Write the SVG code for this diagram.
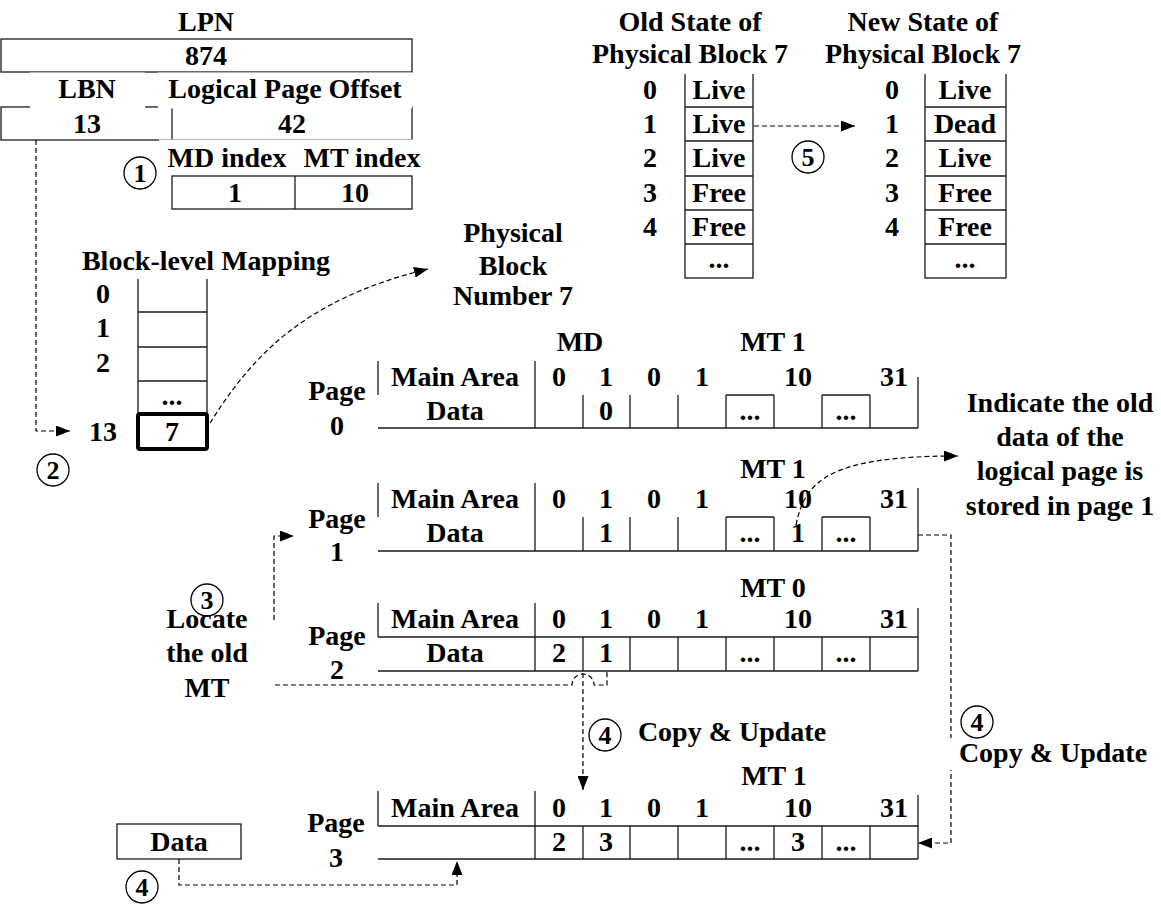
<svg xmlns="http://www.w3.org/2000/svg" width="1161" height="905" viewBox="0 0 1161 905">
<style>
.t{font-family:"Liberation Serif","Times New Roman",serif;font-weight:bold;font-size:28px;text-anchor:middle;fill:#000}
.c{font-family:"Liberation Serif","Times New Roman",serif;font-weight:bold;font-size:26px;text-anchor:middle;fill:#000}
.ln{stroke:#1a1a1a;stroke-width:1.3;fill:none}
.bx{stroke:#1a1a1a;stroke-width:1.3;fill:#fff}
.wb{fill:#fff;stroke:none}
.ci{fill:none;stroke:#000;stroke-width:1.3}
.dash{stroke:#000;stroke-width:1.2;stroke-dasharray:5 3;fill:none}
</style>
<defs>
<marker id="ah" markerUnits="userSpaceOnUse" markerWidth="14" markerHeight="11" refX="14" refY="5.5" orient="auto">
<path d="M0,0 L14,5.5 L0,11 z" fill="#000"/>
</marker>
</defs>
<rect width="1161" height="905" fill="#fff"/>

<g id="lpn">
<rect class="wb" x="0" y="5" width="412" height="33"/>
<text class="t" x="206" y="31">LPN</text>
<rect class="bx" x="1" y="39" width="411" height="33"/>
<text class="t" x="206" y="65">874</text>
</g>

<g id="lbn-offset">
<rect class="ln" x="1" y="107" width="411" height="33"/>
<path class="ln" d="M172,107 V140"/>
<rect class="wb" x="30" y="72.5" width="115" height="36"/>
<rect class="wb" x="158" y="72.5" width="254" height="36"/>
<text class="t" x="87" y="98">LBN</text>
<text class="t" x="285" y="98">Logical Page Offset</text>
<text class="t" x="87" y="133">13</text>
<text class="t" x="292" y="133">42</text>
</g>

<g id="index">
<rect class="wb" x="159" y="139.5" width="273" height="35.5"/>
<text class="t" x="227" y="167">MD index</text>
<text class="t" x="362" y="167">MT index</text>
<rect class="bx" x="172" y="176" width="240" height="33"/>
<path class="ln" d="M295,176 V209"/>
<text class="t" x="235" y="202">1</text>
<text class="t" x="355" y="202">10</text>
</g>

<g id="block-mapping">
<rect class="wb" x="76" y="244" width="267" height="34"/>
<text class="t" x="206" y="270">Block-level Mapping</text>
<path class="ln" d="M138,279 V413 M207,279 V413 M138,312 H207 M138,347 H207 M138,381 H207"/>
<rect x="138" y="414" width="69" height="35" rx="2" fill="#fff" stroke="#000" stroke-width="4"/>
<text class="t" x="103" y="303">0</text>
<text class="t" x="103" y="337">1</text>
<text class="t" x="103" y="372">2</text>
<text class="t" x="172" y="405">...</text>
<text class="t" x="103" y="441">13</text>
<text class="t" x="172" y="441">7</text>
</g>

<g id="physical-block">
<rect class="wb" x="428" y="241" width="172" height="54"/>
<text class="t" x="513" y="242">Physical</text>
<text class="t" x="513" y="275">Block</text>
<text class="t" x="513" y="305">Number 7</text>
</g>

<g id="old-state">
<rect class="wb" x="615" y="73" width="70" height="172"/>
<rect class="bx" x="685" y="73" width="68" height="205"/>
<path class="ln" d="M685,107 H753 M685,141 H753 M685,176 H753 M685,210 H753 M685,244 H753"/>
<rect class="wb" x="588" y="5" width="207" height="69"/>
<text class="t" x="690" y="31">Old State of</text>
<text class="t" x="690" y="63">Physical Block 7</text>
<text class="t" x="650" y="99">0</text>
<text class="t" x="650" y="133">1</text>
<text class="t" x="650" y="167">2</text>
<text class="t" x="650" y="202">3</text>
<text class="t" x="650" y="236">4</text>
<text class="t" x="719" y="99">Live</text>
<text class="t" x="719" y="133">Live</text>
<text class="t" x="719" y="167">Live</text>
<text class="t" x="719" y="202">Free</text>
<text class="t" x="719" y="236">Free</text>
<text class="t" x="719" y="268">...</text>
</g>

<g id="new-state">
<rect class="wb" x="815" y="73" width="110" height="172"/>
<rect class="bx" x="925" y="73" width="81" height="205"/>
<path class="ln" d="M925,107 H1006 M925,141 H1006 M925,176 H1006 M925,210 H1006 M925,244 H1006"/>
<rect class="wb" x="815" y="5" width="212" height="69"/>
<text class="t" x="923" y="31">New State of</text>
<text class="t" x="923" y="63">Physical Block 7</text>
<text class="t" x="892" y="99">0</text>
<text class="t" x="892" y="133">1</text>
<text class="t" x="892" y="167">2</text>
<text class="t" x="892" y="202">3</text>
<text class="t" x="892" y="236">4</text>
<text class="t" x="965" y="99">Live</text>
<text class="t" x="965" y="133">Dead</text>
<text class="t" x="965" y="167">Live</text>
<text class="t" x="965" y="202">Free</text>
<text class="t" x="965" y="236">Free</text>
<text class="t" x="965" y="268">...</text>
</g>

<g id="page0">
<text class="t" x="337" y="400">Page</text>
<text class="t" x="337" y="435">0</text>
<text class="t" x="580" y="351">MD</text>
<text class="t" x="773" y="351">MT 1</text>
<path class="ln" d="M378,361 V395 M535,361 V428 M918,377 V428 M378,428 H918 M583,395 V428 M630,395 V428 M678,395 V428 M726,395 V428 M774,395 V428 M822,395 V428 M870,395 V428 M726,395 H774 M822,395 H870"/>
<text class="t" x="455" y="386">Main Area</text>
<text class="t" x="559" y="386">0</text>
<text class="t" x="606" y="386">1</text>
<text class="t" x="654" y="386">0</text>
<text class="t" x="702" y="386">1</text>
<text class="t" x="798" y="386">10</text>
<text class="t" x="894" y="386">31</text>
<text class="t" x="455" y="420">Data</text>
<text class="t" x="606" y="420">0</text>
<text class="t" x="750" y="420">...</text>
<text class="t" x="846" y="420">...</text>
</g>

<g id="page1">
<text class="t" x="337" y="528">Page</text>
<text class="t" x="337" y="561">1</text>
<text class="t" x="773" y="478">MT 1</text>
<path class="ln" d="M378,483 V517 M535,483 V551 M918,488 V551 M378,551 H918 M583,517 V551 M630,517 V551 M678,517 V551 M726,517 V551 M774,517 V551 M822,517 V551 M870,517 V551 M726,517 H774 M822,517 H870"/>
<text class="t" x="455" y="508">Main Area</text>
<text class="t" x="559" y="508">0</text>
<text class="t" x="606" y="508">1</text>
<text class="t" x="654" y="508">0</text>
<text class="t" x="702" y="508">1</text>
<text class="t" x="798" y="508">10</text>
<text class="t" x="894" y="508">31</text>
<text class="t" x="455" y="542">Data</text>
<text class="t" x="606" y="542">1</text>
<text class="t" x="750" y="542">...</text>
<text class="t" x="798" y="542">1</text>
<text class="t" x="846" y="542">...</text>
</g>

<g id="page2">
<text class="t" x="337" y="645">Page</text>
<text class="t" x="337" y="679">2</text>
<text class="t" x="773" y="597">MT 0</text>
<path class="ln" d="M378,603 V637 M535,603 V671 M918,608 V671 M378,637 H918 M378,671 H918 M583,637 V671 M630,637 V671 M678,637 V671 M726,637 V671 M774,637 V671 M822,637 V671 M870,637 V671"/>
<text class="t" x="455" y="628">Main Area</text>
<text class="t" x="559" y="628">0</text>
<text class="t" x="606" y="628">1</text>
<text class="t" x="654" y="628">0</text>
<text class="t" x="702" y="628">1</text>
<text class="t" x="798" y="628">10</text>
<text class="t" x="894" y="628">31</text>
<text class="t" x="455" y="662">Data</text>
<text class="t" x="559" y="662">2</text>
<text class="t" x="606" y="662">1</text>
<text class="t" x="750" y="662">...</text>
<text class="t" x="846" y="662">...</text>
</g>

<g id="page3">
<text class="t" x="336" y="832">Page</text>
<text class="t" x="336" y="867">3</text>
<text class="t" x="774" y="785">MT 1</text>
<path class="ln" d="M378,791 V826 M535,791 V859 M918,795 V859 M378,826 H918 M378,859 H918 M583,826 V859 M630,826 V859 M678,826 V859 M726,826 V859 M774,826 V859 M822,826 V859 M870,826 V859"/>
<text class="t" x="455" y="817">Main Area</text>
<text class="t" x="559" y="817">0</text>
<text class="t" x="606" y="817">1</text>
<text class="t" x="654" y="817">0</text>
<text class="t" x="702" y="817">1</text>
<text class="t" x="798" y="817">10</text>
<text class="t" x="894" y="817">31</text>
<text class="t" x="559" y="851">2</text>
<text class="t" x="606" y="851">3</text>
<text class="t" x="750" y="851">...</text>
<text class="t" x="798" y="851">3</text>
<text class="t" x="846" y="851">...</text>
</g>

<g id="data-box">
<rect class="bx" x="117" y="824" width="124" height="35"/>
<text class="t" x="179" y="851">Data</text>
</g>

<g id="indicate-label">
<text class="t" x="1060" y="412">Indicate the old</text>
<text class="t" x="1060" y="446">data of the</text>
<text class="t" x="1060" y="480">logical page is</text>
<text class="t" x="1060" y="515">stored in page 1</text>
</g>

<g id="locate-label">
<text class="t" x="207" y="628">Locate</text>
<text class="t" x="207" y="662">the old</text>
<text class="t" x="207" y="697">MT</text>
</g>

<g id="connectors">
<path class="dash" d="M36,140 V431 H70" marker-end="url(#ah)"/>
<path class="dash" d="M210,423 C250,360 300,300 428,269" marker-end="url(#ah)"/>
<path class="dash" d="M754,126 H855" marker-end="url(#ah)"/>
<path class="dash" d="M796,525 C805,480 830,456 958,456" marker-end="url(#ah)"/>
<path class="dash" d="M274,620 V536 H294" marker-end="url(#ah)"/>
<path class="dash" d="M275,685 H572 A11,11 0 0 1 594,685 H607 V672"/>
<path class="dash" d="M583,673 V790" marker-end="url(#ah)"/>
<path class="dash" d="M918,535 H951 V843 H918" marker-end="url(#ah)"/>
<path class="dash" d="M179,859 V885 H457 V861" marker-end="url(#ah)"/>
</g>

<g id="copy-label-right">
<rect class="wb" x="945" y="738" width="215" height="32"/>
<text class="t" x="1053" y="762">Copy &amp; Update</text>
</g>
<g id="copy-label-mid">
<text class="t" x="732" y="741">Copy &amp; Update</text>
</g>

<g id="steps">
<circle class="ci" cx="140" cy="173" r="16"/><text class="c" x="140" y="182">1</text>
<circle class="ci" cx="53" cy="470" r="16"/><text class="c" x="53" y="479">2</text>
<circle class="ci" cx="207" cy="600" r="16"/><text class="c" x="207" y="609">3</text>
<circle class="ci" cx="605" cy="735" r="16"/><text class="c" x="605" y="744">4</text>
<circle class="ci" cx="977" cy="722" r="16"/><text class="c" x="977" y="731">4</text>
<circle class="ci" cx="142" cy="887" r="16"/><text class="c" x="142" y="896">4</text>
<circle class="ci" cx="808" cy="157" r="16"/><text class="c" x="808" y="166">5</text>
</g>
</svg>
